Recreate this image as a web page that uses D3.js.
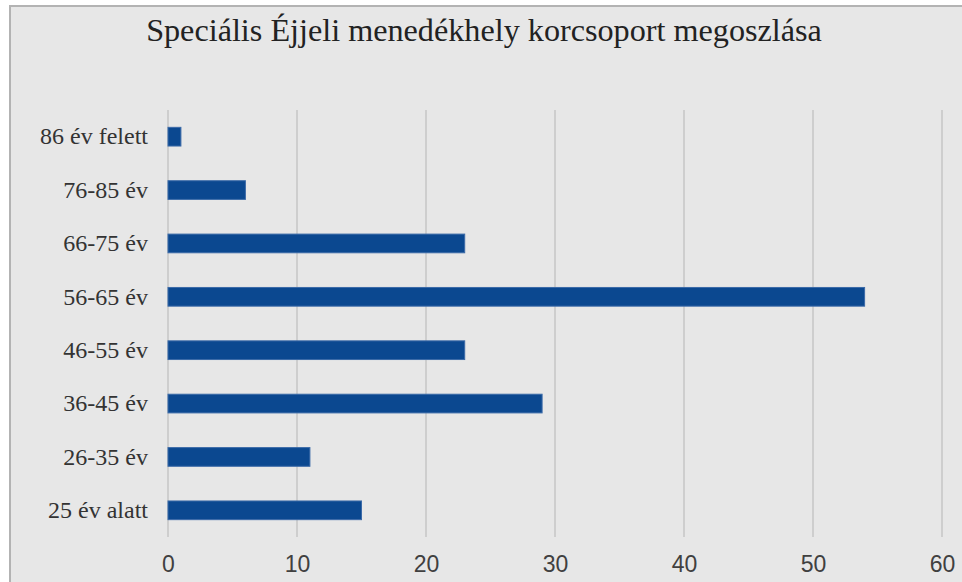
<!DOCTYPE html>
<html><head><meta charset="utf-8">
<script src="https://cdn.jsdelivr.net/npm/d3@7"></script>
<style>html,body{margin:0;padding:0;background:#fff;overflow:hidden}</style>
</head><body>
<script>
const categories = ["86 év felett","76-85 év","66-75 év","56-65 év","46-55 év","36-45 év","26-35 év","25 év alatt"];
const values = [1, 6, 23, 54, 23, 29, 11, 15];
const ticks = [0, 10, 20, 30, 40, 50, 60];
const title = "Speciális Éjjeli menedékhely korcsoport megoszlása";

const W = 962, H = 582;
const svg = d3.select("body").append("svg").attr("width", W).attr("height", H);

svg.append("rect").attr("x", 10).attr("y", 6).attr("width", 1000).attr("height", 640)
  .attr("fill", "#e7e7e7").attr("stroke", "#b3b3b3").attr("stroke-width", 2);

const x = d3.scaleLinear().domain([0, 60]).range([168, 942]);
const y = d3.scaleBand().domain(categories).range([110, 537]).paddingInner(0.65).paddingOuter(0.325);

svg.append("text").attr("x", 484).attr("y", 41).attr("text-anchor", "middle")
  .attr("font-family", "Liberation Serif, serif").attr("font-size", 32.2).attr("fill", "#222")
  .text(title);

const grid = svg.append("g");
grid.selectAll("line").data(ticks).join("line")
  .attr("x1", d => x(d)).attr("x2", d => x(d)).attr("y1", 110).attr("y2", 537)
  .attr("stroke", "#c6c6c6").attr("stroke-width", 1.5);

const xAxis = svg.append("g").attr("transform", "translate(0,537)")
  .call(d3.axisBottom(x).tickValues(ticks).tickSize(0).tickPadding(19).tickFormat(d3.format("d")));
xAxis.select(".domain").remove();
xAxis.selectAll("text").attr("font-family", "Liberation Sans, Arial, sans-serif").attr("font-size", 23).attr("fill", "#404040");

const yAxis = svg.append("g").attr("transform", "translate(168,0)")
  .call(d3.axisLeft(y).tickSize(0).tickPadding(20));
yAxis.select(".domain").remove();
yAxis.selectAll("text").attr("font-family", "Liberation Serif, serif").attr("font-size", 24).attr("fill", "#333");

svg.append("g").selectAll("rect").data(values).join("rect")
  .attr("x", x(0)).attr("y", (d, i) => y(categories[i]))
  .attr("width", d => x(d) - x(0)).attr("height", y.bandwidth())
  .attr("fill", "#0b4890").attr("stroke", "#3b6aa8").attr("stroke-width", 1);
</script>
</body></html>
